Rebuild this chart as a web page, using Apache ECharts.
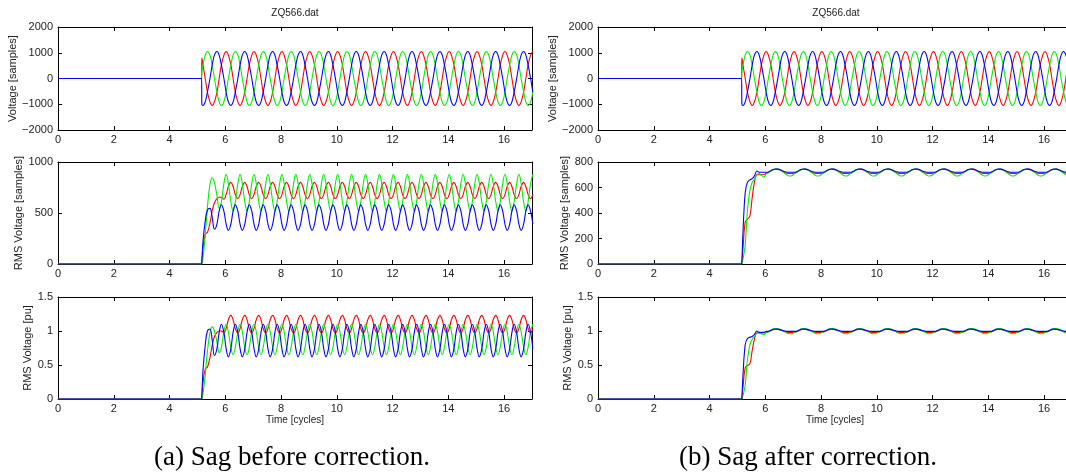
<!DOCTYPE html>
<html>
<head>
<meta charset="utf-8" />
<title></title>
<script src="https://cdn.jsdelivr.net/npm/echarts@6/dist/echarts.min.js"></script>
</head>
<body>
<div id="main" style="width:1066px;height:474px;"></div>
</body>
<style>
body{padding:0;margin:0;background:#fff;}
</style>
<script type="text/javascript">
// time in cycles, shared by every trace
var T = [0, 5.15, 5.16,
  5.20, 5.28, 5.36, 5.45, 5.53, 5.61, 5.70, 5.78, 5.86, 5.95,
  6.03, 6.11, 6.20, 6.28, 6.36, 6.45, 6.53, 6.61, 6.70, 6.78, 6.86, 6.95,
  7.03, 7.11, 7.20, 7.28, 7.36, 7.45, 7.53, 7.61, 7.70, 7.78, 7.86, 7.95,
  8.03, 8.11, 8.20, 8.28, 8.36, 8.45, 8.53, 8.61, 8.70, 8.78, 8.86, 8.95,
  9.03, 9.11, 9.20, 9.28, 9.36, 9.45, 9.53, 9.61, 9.70, 9.78, 9.86, 9.95,
  10.03, 10.11, 10.20, 10.28, 10.36, 10.45, 10.53, 10.61, 10.70, 10.78, 10.86, 10.95,
  11.03, 11.11, 11.20, 11.28, 11.36, 11.45, 11.53, 11.61, 11.70, 11.78, 11.86, 11.95,
  12.03, 12.11, 12.20, 12.28, 12.36, 12.45, 12.53, 12.61, 12.70, 12.78, 12.86, 12.95,
  13.03, 13.11, 13.20, 13.28, 13.36, 13.45, 13.53, 13.61, 13.70, 13.78, 13.86, 13.95,
  14.03, 14.11, 14.20, 14.28, 14.36, 14.45, 14.53, 14.61, 14.70, 14.78, 14.86, 14.95,
  15.03, 15.11, 15.20, 15.28, 15.36, 15.45, 15.53, 15.61, 15.70, 15.78, 15.86, 15.95,
  16.03, 16.11, 16.20, 16.28, 16.36, 16.45, 16.53, 16.61, 16.70, 16.78, 16.86, 16.95,
  17.03];

// voltage [samples] (same file on both sides)
var vR = [0, 0, 800,
  525, 0, -525, -909, -1050, -909, -525, 0, 525, 909,
  1050, 909, 525, 0, -525, -909, -1050, -909, -525, 0, 525, 909,
  1050, 909, 525, 0, -525, -909, -1050, -909, -525, 0, 525, 909,
  1050, 909, 525, 0, -525, -909, -1050, -909, -525, 0, 525, 909,
  1050, 909, 525, 0, -525, -909, -1050, -909, -525, 0, 525, 909,
  1050, 909, 525, 0, -525, -909, -1050, -909, -525, 0, 525, 909,
  1050, 909, 525, 0, -525, -909, -1050, -909, -525, 0, 525, 909,
  1050, 909, 525, 0, -525, -909, -1050, -909, -525, 0, 525, 909,
  1050, 909, 525, 0, -525, -909, -1050, -909, -525, 0, 525, 909,
  1050, 909, 525, 0, -525, -909, -1050, -909, -525, 0, 525, 909,
  1050, 909, 525, 0, -525, -909, -1050, -909, -525, 0, 525, 909,
  1050, 909, 525, 0, -525, -909, -1050, -909, -525, 0, 525, 909,
  1050];
var vG = [0, 0, 240,
  525, 909, 1050, 909, 525, 0, -525, -909, -1050, -909,
  -525, 0, 525, 909, 1050, 909, 525, 0, -525, -909, -1050, -909,
  -525, 0, 525, 909, 1050, 909, 525, 0, -525, -909, -1050, -909,
  -525, 0, 525, 909, 1050, 909, 525, 0, -525, -909, -1050, -909,
  -525, 0, 525, 909, 1050, 909, 525, 0, -525, -909, -1050, -909,
  -525, 0, 525, 909, 1050, 909, 525, 0, -525, -909, -1050, -909,
  -525, 0, 525, 909, 1050, 909, 525, 0, -525, -909, -1050, -909,
  -525, 0, 525, 909, 1050, 909, 525, 0, -525, -909, -1050, -909,
  -525, 0, 525, 909, 1050, 909, 525, 0, -525, -909, -1050, -909,
  -525, 0, 525, 909, 1050, 909, 525, 0, -525, -909, -1050, -909,
  -525, 0, 525, 909, 1050, 909, 525, 0, -525, -909, -1050, -909,
  -525, 0, 525, 909, 1050, 909, 525, 0, -525, -909, -1050, -909,
  -525];
var vB = [0, 0, -1000,
  -1050, -909, -525, 0, 525, 909, 1050, 909, 525, 0,
  -525, -909, -1050, -909, -525, 0, 525, 909, 1050, 909, 525, 0,
  -525, -909, -1050, -909, -525, 0, 525, 909, 1050, 909, 525, 0,
  -525, -909, -1050, -909, -525, 0, 525, 909, 1050, 909, 525, 0,
  -525, -909, -1050, -909, -525, 0, 525, 909, 1050, 909, 525, 0,
  -525, -909, -1050, -909, -525, 0, 525, 909, 1050, 909, 525, 0,
  -525, -909, -1050, -909, -525, 0, 525, 909, 1050, 909, 525, 0,
  -525, -909, -1050, -909, -525, 0, 525, 909, 1050, 909, 525, 0,
  -525, -909, -1050, -909, -525, 0, 525, 909, 1050, 909, 525, 0,
  -525, -909, -1050, -909, -525, 0, 525, 909, 1050, 909, 525, 0,
  -525, -909, -1050, -909, -525, 0, 525, 909, 1050, 909, 525, 0,
  -525, -909, -1050, -909, -525, 0, 525, 909, 1050, 909, 525, 0,
  -525];

// (a) RMS voltage [samples]
var rR = [0, 0, 0,
  150, 290, 310, 400, 520, 600, 640, 655, 655, 635,
  680, 760, 800, 760, 680, 640, 680, 760, 800, 760, 680, 640,
  680, 760, 800, 760, 680, 640, 680, 760, 800, 760, 680, 640,
  680, 760, 800, 760, 680, 640, 680, 760, 800, 760, 680, 640,
  680, 760, 800, 760, 680, 640, 680, 760, 800, 760, 680, 640,
  680, 760, 800, 760, 680, 640, 680, 760, 800, 760, 680, 640,
  680, 760, 800, 760, 680, 640, 680, 760, 800, 760, 680, 640,
  680, 760, 800, 760, 680, 640, 680, 760, 800, 760, 680, 640,
  680, 760, 800, 760, 680, 640, 680, 760, 800, 760, 680, 640,
  680, 760, 800, 760, 680, 640, 680, 760, 800, 760, 680, 640,
  680, 760, 800, 760, 680, 640, 680, 760, 800, 760, 680, 640,
  680, 760, 800, 760, 680, 640, 680, 760, 800, 760, 680, 640,
  680];
var rG = [0, 0, 0,
  60, 280, 560, 780, 845, 800, 670, 545, 610, 790,
  880, 790, 610, 520, 610, 790, 880, 790, 610, 520, 610, 790,
  880, 790, 610, 520, 610, 790, 880, 790, 610, 520, 610, 790,
  880, 790, 610, 520, 610, 790, 880, 790, 610, 520, 610, 790,
  880, 790, 610, 520, 610, 790, 880, 790, 610, 520, 610, 790,
  880, 790, 610, 520, 610, 790, 880, 790, 610, 520, 610, 790,
  880, 790, 610, 520, 610, 790, 880, 790, 610, 520, 610, 790,
  880, 790, 610, 520, 610, 790, 880, 790, 610, 520, 610, 790,
  880, 790, 610, 520, 610, 790, 880, 790, 610, 520, 610, 790,
  880, 790, 610, 520, 610, 790, 880, 790, 610, 520, 610, 790,
  880, 790, 610, 520, 610, 790, 880, 790, 610, 520, 610, 790,
  880, 790, 610, 520, 610, 790, 880, 790, 610, 520, 610, 790,
  880];
var rB = [0, 0, 30,
  220, 420, 530, 545, 460, 340, 392, 518, 580, 518,
  392, 330, 392, 518, 580, 518, 392, 330, 392, 518, 580, 518,
  392, 330, 392, 518, 580, 518, 392, 330, 392, 518, 580, 518,
  392, 330, 392, 518, 580, 518, 392, 330, 392, 518, 580, 518,
  392, 330, 392, 518, 580, 518, 392, 330, 392, 518, 580, 518,
  392, 330, 392, 518, 580, 518, 392, 330, 392, 518, 580, 518,
  392, 330, 392, 518, 580, 518, 392, 330, 392, 518, 580, 518,
  392, 330, 392, 518, 580, 518, 392, 330, 392, 518, 580, 518,
  392, 330, 392, 518, 580, 518, 392, 330, 392, 518, 580, 518,
  392, 330, 392, 518, 580, 518, 392, 330, 392, 518, 580, 518,
  392, 330, 392, 518, 580, 518, 392, 330, 392, 518, 580, 518,
  392, 330, 392, 518, 580, 518, 392, 330, 392, 518, 580, 518,
  392];

// (a) RMS voltage [pu]
var pR = [0, 0, 0,
  0.23, 0.44, 0.47, 0.61, 0.79, 0.92, 0.98, 1.0, 1.0, 0.97,
  1.035, 1.165, 1.23, 1.165, 1.035, 0.97, 1.035, 1.165, 1.23, 1.165, 1.035, 0.97,
  1.035, 1.165, 1.23, 1.165, 1.035, 0.97, 1.035, 1.165, 1.23, 1.165, 1.035, 0.97,
  1.035, 1.165, 1.23, 1.165, 1.035, 0.97, 1.035, 1.165, 1.23, 1.165, 1.035, 0.97,
  1.035, 1.165, 1.23, 1.165, 1.035, 0.97, 1.035, 1.165, 1.23, 1.165, 1.035, 0.97,
  1.035, 1.165, 1.23, 1.165, 1.035, 0.97, 1.035, 1.165, 1.23, 1.165, 1.035, 0.97,
  1.035, 1.165, 1.23, 1.165, 1.035, 0.97, 1.035, 1.165, 1.23, 1.165, 1.035, 0.97,
  1.035, 1.165, 1.23, 1.165, 1.035, 0.97, 1.035, 1.165, 1.23, 1.165, 1.035, 0.97,
  1.035, 1.165, 1.23, 1.165, 1.035, 0.97, 1.035, 1.165, 1.23, 1.165, 1.035, 0.97,
  1.035, 1.165, 1.23, 1.165, 1.035, 0.97, 1.035, 1.165, 1.23, 1.165, 1.035, 0.97,
  1.035, 1.165, 1.23, 1.165, 1.035, 0.97, 1.035, 1.165, 1.23, 1.165, 1.035, 0.97,
  1.035, 1.165, 1.23, 1.165, 1.035, 0.97, 1.035, 1.165, 1.23, 1.165, 1.035, 0.97,
  1.035];
var pG = [0, 0, 0,
  0.08, 0.35, 0.7, 0.975, 1.06, 1.0, 0.84, 0.68, 0.76, 0.99,
  1.1, 0.99, 0.76, 0.65, 0.76, 0.99, 1.1, 0.99, 0.76, 0.65, 0.76, 0.99,
  1.1, 0.99, 0.76, 0.65, 0.76, 0.99, 1.1, 0.99, 0.76, 0.65, 0.76, 0.99,
  1.1, 0.99, 0.76, 0.65, 0.76, 0.99, 1.1, 0.99, 0.76, 0.65, 0.76, 0.99,
  1.1, 0.99, 0.76, 0.65, 0.76, 0.99, 1.1, 0.99, 0.76, 0.65, 0.76, 0.99,
  1.1, 0.99, 0.76, 0.65, 0.76, 0.99, 1.1, 0.99, 0.76, 0.65, 0.76, 0.99,
  1.1, 0.99, 0.76, 0.65, 0.76, 0.99, 1.1, 0.99, 0.76, 0.65, 0.76, 0.99,
  1.1, 0.99, 0.76, 0.65, 0.76, 0.99, 1.1, 0.99, 0.76, 0.65, 0.76, 0.99,
  1.1, 0.99, 0.76, 0.65, 0.76, 0.99, 1.1, 0.99, 0.76, 0.65, 0.76, 0.99,
  1.1, 0.99, 0.76, 0.65, 0.76, 0.99, 1.1, 0.99, 0.76, 0.65, 0.76, 0.99,
  1.1, 0.99, 0.76, 0.65, 0.76, 0.99, 1.1, 0.99, 0.76, 0.65, 0.76, 0.99,
  1.1, 0.99, 0.76, 0.65, 0.76, 0.99, 1.1, 0.99, 0.76, 0.65, 0.76, 0.99,
  1.1];
var pB = [0, 0, 0.06,
  0.42, 0.79, 1.0, 1.03, 0.87, 0.64, 0.74, 0.98, 1.1, 0.98,
  0.74, 0.62, 0.74, 0.98, 1.1, 0.98, 0.74, 0.62, 0.74, 0.98, 1.1, 0.98,
  0.74, 0.62, 0.74, 0.98, 1.1, 0.98, 0.74, 0.62, 0.74, 0.98, 1.1, 0.98,
  0.74, 0.62, 0.74, 0.98, 1.1, 0.98, 0.74, 0.62, 0.74, 0.98, 1.1, 0.98,
  0.74, 0.62, 0.74, 0.98, 1.1, 0.98, 0.74, 0.62, 0.74, 0.98, 1.1, 0.98,
  0.74, 0.62, 0.74, 0.98, 1.1, 0.98, 0.74, 0.62, 0.74, 0.98, 1.1, 0.98,
  0.74, 0.62, 0.74, 0.98, 1.1, 0.98, 0.74, 0.62, 0.74, 0.98, 1.1, 0.98,
  0.74, 0.62, 0.74, 0.98, 1.1, 0.98, 0.74, 0.62, 0.74, 0.98, 1.1, 0.98,
  0.74, 0.62, 0.74, 0.98, 1.1, 0.98, 0.74, 0.62, 0.74, 0.98, 1.1, 0.98,
  0.74, 0.62, 0.74, 0.98, 1.1, 0.98, 0.74, 0.62, 0.74, 0.98, 1.1, 0.98,
  0.74, 0.62, 0.74, 0.98, 1.1, 0.98, 0.74, 0.62, 0.74, 0.98, 1.1, 0.98,
  0.74, 0.62, 0.74, 0.98, 1.1, 0.98, 0.74, 0.62, 0.74, 0.98, 1.1, 0.98,
  0.74];

// (b) RMS voltage [samples]
var sR = [0, 0, 10,
  120, 330, 350, 380, 520, 640, 700, 700, 700, 702,
  712, 718, 730, 740, 743, 742, 737, 728, 718, 712, 710, 710,
  712, 718, 730, 740, 743, 742, 737, 728, 718, 712, 710, 710,
  712, 718, 730, 740, 743, 742, 737, 728, 718, 712, 710, 710,
  712, 718, 730, 740, 743, 742, 737, 728, 718, 712, 710, 710,
  712, 718, 730, 740, 743, 742, 737, 728, 718, 712, 710, 710,
  712, 718, 730, 740, 743, 742, 737, 728, 718, 712, 710, 710,
  712, 718, 730, 740, 743, 742, 737, 728, 718, 712, 710, 710,
  712, 718, 730, 740, 743, 742, 737, 728, 718, 712, 710, 710,
  712, 718, 730, 740, 743, 742, 737, 728, 718, 712, 710, 710,
  712, 718, 730, 740, 743, 742, 737, 728, 718, 712, 710, 710,
  712, 718, 730, 740, 743, 742, 737, 728, 718, 712, 710, 710,
  712];
var sG = [0, 0, 0,
  40, 150, 420, 580, 640, 665, 700, 710, 695, 682,
  705, 715, 730, 740, 745, 745, 738, 725, 712, 698, 690, 693,
  705, 715, 730, 740, 745, 745, 738, 725, 712, 698, 690, 693,
  705, 715, 730, 740, 745, 745, 738, 725, 712, 698, 690, 693,
  705, 715, 730, 740, 745, 745, 738, 725, 712, 698, 690, 693,
  705, 715, 730, 740, 745, 745, 738, 725, 712, 698, 690, 693,
  705, 715, 730, 740, 745, 745, 738, 725, 712, 698, 690, 693,
  705, 715, 730, 740, 745, 745, 738, 725, 712, 698, 690, 693,
  705, 715, 730, 740, 745, 745, 738, 725, 712, 698, 690, 693,
  705, 715, 730, 740, 745, 745, 738, 725, 712, 698, 690, 693,
  705, 715, 730, 740, 745, 745, 738, 725, 712, 698, 690, 693,
  705, 715, 730, 740, 745, 745, 738, 725, 712, 698, 690, 693,
  705];
var sB = [0, 0, 20,
  250, 560, 640, 660, 670, 690, 730, 720, 720, 720,
  720, 722, 732, 742, 745, 744, 740, 732, 724, 720, 720, 720,
  720, 722, 732, 742, 745, 744, 740, 732, 724, 720, 720, 720,
  720, 722, 732, 742, 745, 744, 740, 732, 724, 720, 720, 720,
  720, 722, 732, 742, 745, 744, 740, 732, 724, 720, 720, 720,
  720, 722, 732, 742, 745, 744, 740, 732, 724, 720, 720, 720,
  720, 722, 732, 742, 745, 744, 740, 732, 724, 720, 720, 720,
  720, 722, 732, 742, 745, 744, 740, 732, 724, 720, 720, 720,
  720, 722, 732, 742, 745, 744, 740, 732, 724, 720, 720, 720,
  720, 722, 732, 742, 745, 744, 740, 732, 724, 720, 720, 720,
  720, 722, 732, 742, 745, 744, 740, 732, 724, 720, 720, 720,
  720, 722, 732, 742, 745, 744, 740, 732, 724, 720, 720, 720,
  720];

// (b) RMS voltage [pu]
var qR = [0, 0, 0.01,
  0.17, 0.46, 0.49, 0.52, 0.71, 0.88, 0.97, 0.97, 0.97, 0.975,
  0.98, 0.99, 1.005, 1.02, 1.025, 1.025, 1.015, 1.005, 0.99, 0.98, 0.98, 0.98,
  0.98, 0.99, 1.005, 1.02, 1.025, 1.025, 1.015, 1.005, 0.99, 0.98, 0.98, 0.98,
  0.98, 0.99, 1.005, 1.02, 1.025, 1.025, 1.015, 1.005, 0.99, 0.98, 0.98, 0.98,
  0.98, 0.99, 1.005, 1.02, 1.025, 1.025, 1.015, 1.005, 0.99, 0.98, 0.98, 0.98,
  0.98, 0.99, 1.005, 1.02, 1.025, 1.025, 1.015, 1.005, 0.99, 0.98, 0.98, 0.98,
  0.98, 0.99, 1.005, 1.02, 1.025, 1.025, 1.015, 1.005, 0.99, 0.98, 0.98, 0.98,
  0.98, 0.99, 1.005, 1.02, 1.025, 1.025, 1.015, 1.005, 0.99, 0.98, 0.98, 0.98,
  0.98, 0.99, 1.005, 1.02, 1.025, 1.025, 1.015, 1.005, 0.99, 0.98, 0.98, 0.98,
  0.98, 0.99, 1.005, 1.02, 1.025, 1.025, 1.015, 1.005, 0.99, 0.98, 0.98, 0.98,
  0.98, 0.99, 1.005, 1.02, 1.025, 1.025, 1.015, 1.005, 0.99, 0.98, 0.98, 0.98,
  0.98, 0.99, 1.005, 1.02, 1.025, 1.025, 1.015, 1.005, 0.99, 0.98, 0.98, 0.98,
  0.98];
var qG = [0, 0, 0,
  0.05, 0.2, 0.58, 0.8, 0.88, 0.92, 0.97, 0.98, 0.96, 0.945,
  0.98, 0.99, 1.01, 1.03, 1.035, 1.035, 1.025, 1.005, 0.99, 0.97, 0.96, 0.96,
  0.98, 0.99, 1.01, 1.03, 1.035, 1.035, 1.025, 1.005, 0.99, 0.97, 0.96, 0.96,
  0.98, 0.99, 1.01, 1.03, 1.035, 1.035, 1.025, 1.005, 0.99, 0.97, 0.96, 0.96,
  0.98, 0.99, 1.01, 1.03, 1.035, 1.035, 1.025, 1.005, 0.99, 0.97, 0.96, 0.96,
  0.98, 0.99, 1.01, 1.03, 1.035, 1.035, 1.025, 1.005, 0.99, 0.97, 0.96, 0.96,
  0.98, 0.99, 1.01, 1.03, 1.035, 1.035, 1.025, 1.005, 0.99, 0.97, 0.96, 0.96,
  0.98, 0.99, 1.01, 1.03, 1.035, 1.035, 1.025, 1.005, 0.99, 0.97, 0.96, 0.96,
  0.98, 0.99, 1.01, 1.03, 1.035, 1.035, 1.025, 1.005, 0.99, 0.97, 0.96, 0.96,
  0.98, 0.99, 1.01, 1.03, 1.035, 1.035, 1.025, 1.005, 0.99, 0.97, 0.96, 0.96,
  0.98, 0.99, 1.01, 1.03, 1.035, 1.035, 1.025, 1.005, 0.99, 0.97, 0.96, 0.96,
  0.98, 0.99, 1.01, 1.03, 1.035, 1.035, 1.025, 1.005, 0.99, 0.97, 0.96, 0.96,
  0.98];
var qB = [0, 0, 0.03,
  0.35, 0.8, 0.89, 0.91, 0.92, 0.95, 1.0, 0.98, 0.98, 0.98,
  0.995, 0.995, 1.01, 1.025, 1.03, 1.025, 1.02, 1.01, 1.0, 0.995, 0.995, 0.995,
  0.995, 0.995, 1.01, 1.025, 1.03, 1.025, 1.02, 1.01, 1.0, 0.995, 0.995, 0.995,
  0.995, 0.995, 1.01, 1.025, 1.03, 1.025, 1.02, 1.01, 1.0, 0.995, 0.995, 0.995,
  0.995, 0.995, 1.01, 1.025, 1.03, 1.025, 1.02, 1.01, 1.0, 0.995, 0.995, 0.995,
  0.995, 0.995, 1.01, 1.025, 1.03, 1.025, 1.02, 1.01, 1.0, 0.995, 0.995, 0.995,
  0.995, 0.995, 1.01, 1.025, 1.03, 1.025, 1.02, 1.01, 1.0, 0.995, 0.995, 0.995,
  0.995, 0.995, 1.01, 1.025, 1.03, 1.025, 1.02, 1.01, 1.0, 0.995, 0.995, 0.995,
  0.995, 0.995, 1.01, 1.025, 1.03, 1.025, 1.02, 1.01, 1.0, 0.995, 0.995, 0.995,
  0.995, 0.995, 1.01, 1.025, 1.03, 1.025, 1.02, 1.01, 1.0, 0.995, 0.995, 0.995,
  0.995, 0.995, 1.01, 1.025, 1.03, 1.025, 1.02, 1.01, 1.0, 0.995, 0.995, 0.995,
  0.995, 0.995, 1.01, 1.025, 1.03, 1.025, 1.02, 1.01, 1.0, 0.995, 0.995, 0.995,
  0.995];

var colors = ['#ff0000', '#00f000', '#0000ff'];
var font = 'Liberation Sans';

// right-hand panel runs past the edge of the page, as in the original
var plots = [
  {left: 58, width: 474, top: 27, height: 103, d: [vR, vG, vB], min: -2000, max: 2000, step: 1000, name: 'Voltage [samples]', gap: 36},
  {left: 58, width: 474, top: 162, height: 102, d: [rR, rG, rB], min: 0, max: 1000, step: 500, name: 'RMS Voltage [samples]', gap: 28},
  {left: 58, width: 474, top: 297, height: 102, d: [pR, pG, pB], min: 0, max: 1.5, step: 0.5, name: 'RMS Voltage [pu]', gap: 23, xName: 'Time [cycles]'},
  {left: 598, width: 474, top: 27, height: 103, d: [vR, vG, vB], min: -2000, max: 2000, step: 1000, name: 'Voltage [samples]', gap: 38},
  {left: 598, width: 474, top: 162, height: 102, d: [sR, sG, sB], min: 0, max: 800, step: 200, name: 'RMS Voltage [samples]', gap: 27},
  {left: 598, width: 474, top: 297, height: 102, d: [qR, qG, qB], min: 0, max: 1.5, step: 0.5, name: 'RMS Voltage [pu]', gap: 24, xName: 'Time [cycles]'}
];

function fmt(v) { return String(v).replace('-', '\u2212'); }

var grids = [], xAxes = [], yAxes = [], series = [];
var line = {show: true, onZero: false, lineStyle: {color: '#000', width: 1}};
var tick = {show: true, inside: true, length: 4, lineStyle: {color: '#000', width: 1}};
var lbl = {color: '#222', fontSize: 11, fontFamily: font, formatter: fmt};

plots.forEach(function (p, i) {
  grids.push({left: p.left, width: p.width, top: p.top, height: p.height,
    containLabel: false, outerBoundsMode: 'none'});
  xAxes.push({type: 'value', gridIndex: i, min: 0, max: 17, interval: 2, position: 'bottom',
    axisLine: line, axisTick: tick, splitLine: {show: false},
    axisLabel: Object.assign({margin: 4, showMaxLabel: false}, lbl),
    name: p.xName || '', nameLocation: 'middle', nameGap: 11,
    nameTextStyle: {color: '#222', fontSize: 10, fontFamily: font}});
  xAxes.push({type: 'value', gridIndex: i, min: 0, max: 17, interval: 2, position: 'top',
    axisLine: line, axisTick: tick, splitLine: {show: false}, axisLabel: {show: false}});
  yAxes.push({type: 'value', gridIndex: i, min: p.min, max: p.max, interval: p.step, position: 'left',
    axisLine: line, axisTick: tick, splitLine: {show: false},
    axisLabel: Object.assign({margin: 5}, lbl),
    name: p.name, nameLocation: 'middle', nameGap: p.gap,
    nameTextStyle: {color: '#222', fontSize: 11, fontFamily: font}});
  yAxes.push({type: 'value', gridIndex: i, min: p.min, max: p.max, interval: p.step, position: 'right',
    axisLine: line, axisTick: tick, splitLine: {show: false}, axisLabel: {show: false}});
  p.d.forEach(function (arr, k) {
    series.push({type: 'line', xAxisIndex: 2 * i, yAxisIndex: 2 * i,
      data: T.map(function (t, j) { return [t, arr[j]]; }),
      showSymbol: false, smooth: 0.4, clip: true,
      lineStyle: {color: colors[k], width: 1.1}, itemStyle: {color: colors[k]}});
  });
});

var mychart = echarts.init(document.getElementById('main'));
mychart.setOption({
  animation: false,
  backgroundColor: '#fff',
  grid: grids,
  xAxis: xAxes,
  yAxis: yAxes,
  series: series,
  graphic: [
    {type: 'text', x: 295, y: 13, style: {text: 'ZQ566.dat', fill: '#222', font: '10px "Liberation Sans"', align: 'center', verticalAlign: 'middle'}},
    {type: 'text', x: 836, y: 13, style: {text: 'ZQ566.dat', fill: '#222', font: '10px "Liberation Sans"', align: 'center', verticalAlign: 'middle'}},
    {type: 'text', x: 292, y: 458, style: {text: '(a) Sag before correction.', fill: '#000', font: '27px "Liberation Serif"', align: 'center', verticalAlign: 'middle'}},
    {type: 'text', x: 808, y: 458, style: {text: '(b) Sag after correction.', fill: '#000', font: '27px "Liberation Serif"', align: 'center', verticalAlign: 'middle'}}
  ]
});
</script>
</html>
